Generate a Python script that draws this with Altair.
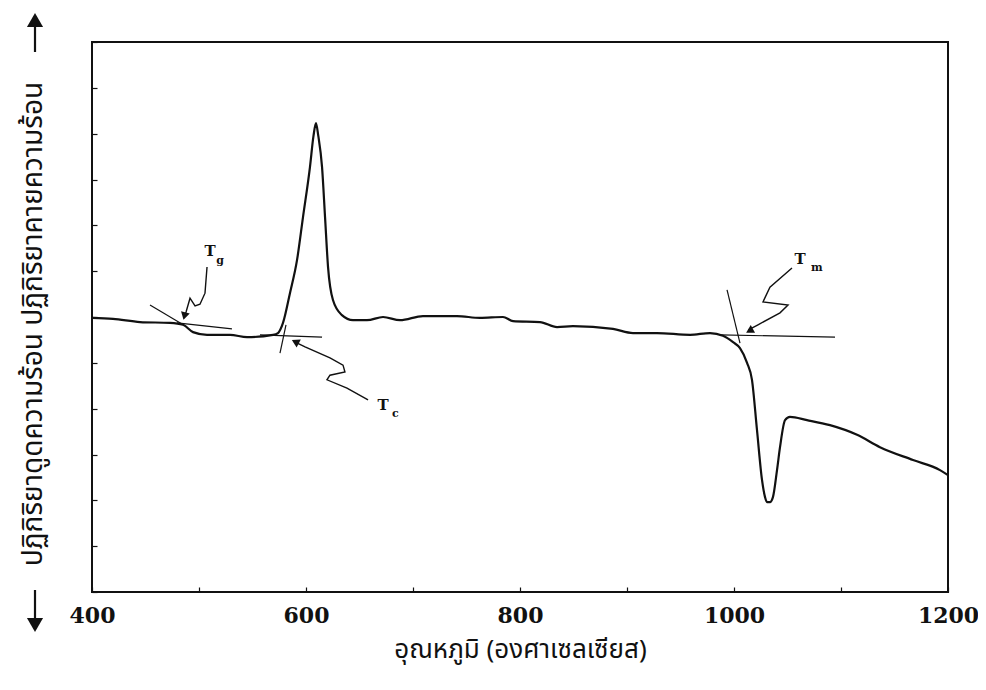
import altair as alt
import pandas as pd

# Main DTA curve (temperature °C, signal in arbitrary units)
temp = [400, 419.6, 444.9, 472.9, 485.0, 494.4, 507.5, 529.0, 544.9, 569.2, 573.8,
        578.5, 585.0, 591.6, 597.2, 603.7, 607.0, 609.3, 611.5, 615.0, 617.8, 620.6,
        625.2, 633.6, 643.9, 657.0, 672.0, 687.9, 709.3, 741.1, 762.6, 784.1, 793.5,
        818.7, 834.6, 849.5, 886.9, 905.6, 928.0, 958.9, 977.6, 989.7, 999.1, 1005.6,
        1012.2, 1016.8, 1021.5, 1026.2, 1029.0, 1030.8, 1033.6, 1036.4, 1040.2, 1043.0,
        1047.7, 1052.3, 1068.2, 1089.7, 1115.0, 1136.4, 1167.3, 1192.5, 1200]
signal = [5.98, 5.96, 5.89, 5.87, 5.83, 5.67, 5.61, 5.61, 5.56, 5.61, 5.65,
          5.87, 6.52, 7.24, 8.18, 9.27, 9.95, 10.23, 9.95, 9.27, 8.18, 7.09,
          6.37, 6.04, 5.93, 5.93, 6.00, 5.93, 6.02, 6.02, 5.98, 6.00, 5.91,
          5.89, 5.78, 5.80, 5.74, 5.65, 5.65, 5.61, 5.65, 5.59, 5.45, 5.32,
          5.00, 4.63, 3.53, 2.44, 2.07, 1.96, 1.96, 2.07, 2.66, 3.16,
          3.75, 3.82, 3.75, 3.64, 3.43, 3.16, 2.88, 2.66, 2.55]

# Tangent construction lines
tan_id = ["g1", "g1", "g2", "g2", "c1", "c1", "c2", "c2", "m1", "m1", "m2", "m2"]
tan_x = [454.2, 488.8, 479.4, 530.8, 557.0, 615.0, 575.7, 581.3, 993.5, 1005.6, 986.9, 1094.4]
tan_y = [6.26, 5.78, 5.87, 5.74, 5.61, 5.56, 5.21, 5.83, 6.59, 5.43, 5.61, 5.56]

# Squiggly arrows
arr_id = ["g"] * 7 + ["c"] * 9 + ["m"] * 7
arr_x = [507.5, 505.6, 500.9, 496.3, 491.6, 487.9, 486.0,
         658.0, 638.3, 619.6, 622.4, 636.4, 634.6, 622.4, 599.1, 588.5,
         1054.2, 1033.6, 1027.1, 1050.5, 1043.0, 1022.4, 1013.5]
arr_y = [7.09, 6.52, 6.28, 6.24, 6.41, 6.11, 5.98,
         4.19, 4.45, 4.63, 4.73, 4.80, 4.95, 5.11, 5.35, 5.47,
         7.07, 6.65, 6.33, 6.26, 6.09, 5.83, 5.72]

# Arrow heads
head_x = [486.4, 590.0, 1014.5]
head_y = [6.02, 5.46, 5.70]
head_angle = [194, 298, 241]

# Labels (T + subscript)
lab_main_x = [510.3, 672.0, 1061.7]
lab_main_y = [7.45, 4.08, 7.26]
lab_sub = ["g", "c", "m"]
lab_sub_x = [519.8, 683.6, 1077.5]
lab_sub_y = [7.22, 3.88, 7.06]

x_ticks = list(range(400, 1201, 100))
y_ticks = list(range(0, 13))

curve = pd.DataFrame({"t": temp, "s": signal, "i": range(len(temp))})
tang = pd.DataFrame({"id": tan_id, "t": tan_x, "s": tan_y, "i": range(len(tan_x))})
arrows = pd.DataFrame({"id": arr_id, "t": arr_x, "s": arr_y, "i": range(len(arr_x))})
heads = pd.DataFrame({"t": head_x, "s": head_y, "a": head_angle})
labT = pd.DataFrame({"t": lab_main_x, "s": lab_main_y, "txt": ["T"] * 3})
labS = pd.DataFrame({"t": lab_sub_x, "s": lab_sub_y, "txt": lab_sub})

xscale = alt.Scale(domain=[400, 1200], nice=False, zero=False)
yscale = alt.Scale(domain=[0, 12], nice=False, zero=False)

THAI = "Noto Sans Thai, Loma, Garuda, sans-serif"

xaxis = alt.Axis(
    values=x_ticks, format="d",
    labelExpr="datum.value % 200 == 0 ? datum.label : ''",
    title="อุณหภูมิ (องศาเซลเซียส)",
    titleFont=THAI,
    titleFontSize=26, titleFontWeight="normal", titleColor="#111",
    titlePadding=10,
    labelFont="DejaVu Serif", labelFontWeight="bold", labelFontSize=22,
    labelColor="#111", labelPadding=13, labelFlush=False,
    tickSize=5, tickColor="#111", tickWidth=1.2, offset=-5,
    domain=False, grid=False,
)
yaxis = alt.Axis(
    values=y_ticks, labels=False, title=None,
    tickSize=5, tickColor="#111", tickWidth=1.2, offset=-5,
    domain=False, grid=False,
)

X = alt.X("t:Q", scale=xscale, axis=xaxis)
Y = alt.Y("s:Q", scale=yscale, axis=yaxis)
Xn = alt.X("t:Q", scale=xscale)
Yn = alt.Y("s:Q", scale=yscale)

base_curve = alt.Chart(curve).mark_line(color="#111", strokeWidth=2.2, interpolate="monotone").encode(
    x=X, y=Y, order="i:Q")
tang_lines = alt.Chart(tang).mark_line(color="#111", strokeWidth=1.2).encode(
    x=Xn, y=Yn, detail="id:N", order="i:Q")
arrow_lines = alt.Chart(arrows).mark_line(color="#111", strokeWidth=1.4).encode(
    x=Xn, y=Yn, detail="id:N", order="i:Q")
arrow_heads = alt.Chart(heads).mark_point(
    shape="triangle-up", filled=True, color="#111", size=80, opacity=1).encode(
    x=Xn, y=Yn, angle=alt.Angle("a:Q", scale=None))
textT = alt.Chart(labT).mark_text(
    font="DejaVu Serif", fontWeight="bold", fontSize=15, color="#111").encode(
    x=Xn, y=Yn, text="txt:N")
textS = alt.Chart(labS).mark_text(
    font="DejaVu Serif", fontWeight="bold", fontSize=11, color="#111").encode(
    x=Xn, y=Yn, text="txt:N")

# Rotated y-axis caption with arrows
ylab = alt.Chart(pd.DataFrame({"txt": ["ปฏิกิริยาดูดความร้อน   ปฏิกิริยาคายความร้อน"]})).mark_text(
    angle=270, font=THAI, fontSize=28,
    color="#111", align="center", baseline="middle").encode(
    x=alt.value(-58), y=alt.value(282), text="txt:N")
up_shaft = alt.Chart(pd.DataFrame({"k": [0]})).mark_rule(color="#111", strokeWidth=2.2).encode(
    x=alt.value(-57), y=alt.value(-22), y2=alt.value(10))
up_head = alt.Chart(pd.DataFrame({"k": [0]})).mark_point(
    shape="triangle-up", filled=True, color="#111", size=260, opacity=1).encode(
    x=alt.value(-57), y=alt.value(-22))
dn_shaft = alt.Chart(pd.DataFrame({"k": [0]})).mark_rule(color="#111", strokeWidth=2.2).encode(
    x=alt.value(-57), y=alt.value(548), y2=alt.value(582))
dn_head = alt.Chart(pd.DataFrame({"k": [0]})).mark_point(
    shape="triangle-down", filled=True, color="#111", size=260, opacity=1).encode(
    x=alt.value(-57), y=alt.value(583))

chart = alt.layer(
    base_curve, tang_lines, arrow_lines, arrow_heads, textT, textS,
    ylab, up_shaft, up_head, dn_shaft, dn_head,
).properties(
    width=856, height=550,
    autosize=alt.AutoSizeParams(type="none"),
    padding={"left": 84, "top": 34, "right": 30, "bottom": 90},
    background="white",
).configure_view(
    stroke="#111", strokeWidth=2, fill="white"
)

chart.save("out.html", embed_options={"renderer": "svg", "actions": False})
